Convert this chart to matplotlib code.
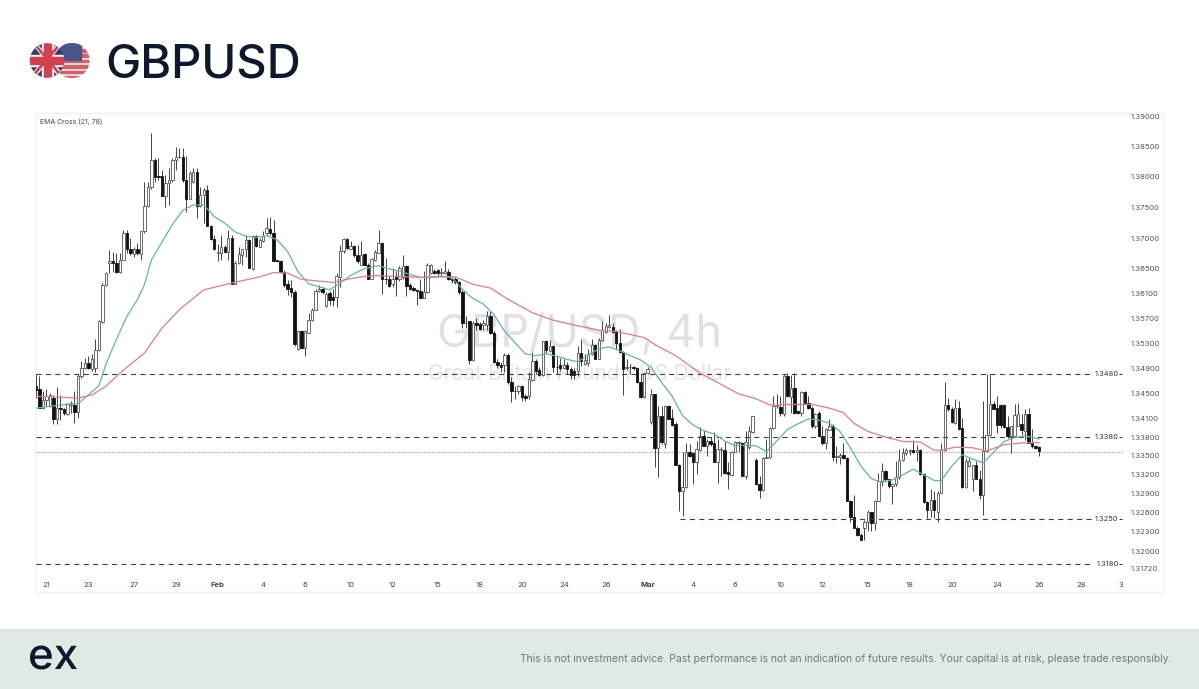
import matplotlib
matplotlib.use("Agg")
import matplotlib.pyplot as plt
import numpy as np
from matplotlib.font_manager import FontProperties
from matplotlib.patches import Circle, PathPatch, Rectangle, Polygon
from matplotlib.path import Path
from matplotlib.textpath import TextPath
from matplotlib.ticker import NullLocator
from matplotlib.transforms import Bbox

plt.rcParams["font.family"] = ["Inter", "DejaVu Sans"]

# GBP/USD 4h candles
opens = [
    1.3462, 1.3457, 1.3426, 1.3439, 1.3429, 1.3442, 1.3408, 1.3427, 1.3424, 1.3417,
    1.3431, 1.3431, 1.3420, 1.3477, 1.3490, 1.3498, 1.3489, 1.3490, 1.3519, 1.3564,
    1.3624, 1.3659, 1.3663, 1.3660, 1.3645, 1.3665, 1.3708, 1.3682, 1.3674, 1.3682,
    1.3674, 1.3711, 1.3752, 1.3783, 1.3828, 1.3801, 1.3802, 1.3769, 1.3790, 1.3794,
    1.3828, 1.3833, 1.3832, 1.3794, 1.3764, 1.3792, 1.3808, 1.3753, 1.3770, 1.3779,
    1.3720, 1.3698, 1.3676, 1.3676, 1.3685, 1.3678, 1.3700, 1.3626, 1.3659, 1.3673,
    1.3683, 1.3697, 1.3650, 1.3704, 1.3686, 1.3696, 1.3708, 1.3715, 1.3708, 1.3664,
    1.3662, 1.3645, 1.3625, 1.3619, 1.3612, 1.3521, 1.3550, 1.3523, 1.3547, 1.3567,
    1.3584, 1.3614, 1.3617, 1.3590, 1.3611, 1.3605, 1.3605, 1.3637, 1.3679, 1.3699,
    1.3683, 1.3687, 1.3673, 1.3657, 1.3674, 1.3657, 1.3633, 1.3665, 1.3676, 1.3692,
    1.3634, 1.3633, 1.3625, 1.3637, 1.3633, 1.3636, 1.3654, 1.3624, 1.3619, 1.3616,
    1.3614, 1.3603, 1.3612, 1.3643, 1.3647, 1.3648, 1.3643, 1.3644, 1.3645, 1.3633,
    1.3633, 1.3629, 1.3612, 1.3562, 1.3565, 1.3503, 1.3562, 1.3561, 1.3560, 1.3560,
    1.3574, 1.3546, 1.3499, 1.3495, 1.3495, 1.3511, 1.3467, 1.3454, 1.3453, 1.3461,
    1.3446, 1.3446, 1.3471, 1.3502, 1.3487, 1.3479, 1.3533, 1.3518, 1.3526, 1.3492,
    1.3495, 1.3490, 1.3495, 1.3488, 1.3486, 1.3486, 1.3515, 1.3496, 1.3498, 1.3512,
    1.3527, 1.3505, 1.3535, 1.3548, 1.3556, 1.3556, 1.3548, 1.3530, 1.3516, 1.3490,
    1.3491, 1.3492, 1.3490, 1.3467, 1.3443, 1.3482, 1.3404, 1.3448, 1.3363, 1.3413,
    1.3369, 1.3430, 1.3410, 1.3401, 1.3336, 1.3294, 1.3301, 1.3357, 1.3354, 1.3340,
    1.3360, 1.3381, 1.3366, 1.3374, 1.3371, 1.3341, 1.3359, 1.3360, 1.3324, 1.3320,
    1.3357, 1.3370, 1.3371, 1.3319, 1.3364, 1.3388, 1.3344, 1.3305, 1.3296, 1.3346,
    1.3348, 1.3394, 1.3429, 1.3428, 1.3416, 1.3477, 1.3444, 1.3458, 1.3421, 1.3418,
    1.3452, 1.3435, 1.3427, 1.3398, 1.3418, 1.3382, 1.3371, 1.3392, 1.3398, 1.3349,
    1.3349, 1.3352, 1.3347, 1.3279, 1.3254, 1.3237, 1.3225, 1.3237, 1.3245, 1.3261,
    1.3244, 1.3279, 1.3310, 1.3326, 1.3313, 1.3302, 1.3305, 1.3317, 1.3343, 1.3355,
    1.3358, 1.3359, 1.3357, 1.3359, 1.3322, 1.3277, 1.3264, 1.3281, 1.3262, 1.3292,
    1.3359, 1.3431, 1.3425, 1.3402, 1.3426, 1.3395, 1.3301, 1.3334, 1.3314, 1.3335,
    1.3314, 1.3289, 1.3358, 1.3384, 1.3432, 1.3426, 1.3431, 1.3431, 1.3396, 1.3381,
    1.3381, 1.3398, 1.3400, 1.3390, 1.3417, 1.3371, 1.3366, 1.3364,
]
highs = [
    1.3480, 1.3477, 1.3453, 1.3457, 1.3450, 1.3447, 1.3460, 1.3447, 1.3426, 1.3435,
    1.3438, 1.3453, 1.3480, 1.3502, 1.3507, 1.3509, 1.3512, 1.3536, 1.3568, 1.3627,
    1.3645, 1.3681, 1.3678, 1.3675, 1.3676, 1.3713, 1.3713, 1.3700, 1.3686, 1.3692,
    1.3712, 1.3791, 1.3791, 1.3872, 1.3831, 1.3831, 1.3812, 1.3803, 1.3814, 1.3831,
    1.3849, 1.3847, 1.3847, 1.3834, 1.3809, 1.3814, 1.3814, 1.3783, 1.3782, 1.3787,
    1.3722, 1.3705, 1.3691, 1.3705, 1.3689, 1.3713, 1.3705, 1.3662, 1.3686, 1.3683,
    1.3705, 1.3698, 1.3705, 1.3705, 1.3700, 1.3711, 1.3733, 1.3734, 1.3730, 1.3665,
    1.3664, 1.3648, 1.3632, 1.3632, 1.3615, 1.3552, 1.3551, 1.3551, 1.3579, 1.3587,
    1.3617, 1.3624, 1.3621, 1.3612, 1.3614, 1.3617, 1.3644, 1.3689, 1.3700, 1.3700,
    1.3695, 1.3689, 1.3689, 1.3696, 1.3676, 1.3660, 1.3668, 1.3681, 1.3713, 1.3693,
    1.3668, 1.3639, 1.3652, 1.3646, 1.3654, 1.3672, 1.3657, 1.3627, 1.3622, 1.3617,
    1.3633, 1.3646, 1.3660, 1.3658, 1.3649, 1.3649, 1.3652, 1.3662, 1.3649, 1.3636,
    1.3636, 1.3630, 1.3616, 1.3573, 1.3566, 1.3566, 1.3571, 1.3564, 1.3568, 1.3582,
    1.3582, 1.3550, 1.3504, 1.3499, 1.3515, 1.3515, 1.3475, 1.3461, 1.3463, 1.3463,
    1.3449, 1.3483, 1.3516, 1.3504, 1.3491, 1.3534, 1.3535, 1.3535, 1.3527, 1.3510,
    1.3507, 1.3505, 1.3499, 1.3491, 1.3490, 1.3525, 1.3536, 1.3513, 1.3520, 1.3537,
    1.3528, 1.3539, 1.3565, 1.3563, 1.3575, 1.3562, 1.3552, 1.3553, 1.3518, 1.3504,
    1.3496, 1.3494, 1.3491, 1.3481, 1.3483, 1.3491, 1.3457, 1.3449, 1.3429, 1.3430,
    1.3431, 1.3431, 1.3425, 1.3404, 1.3337, 1.3356, 1.3370, 1.3369, 1.3357, 1.3374,
    1.3396, 1.3392, 1.3377, 1.3380, 1.3388, 1.3377, 1.3364, 1.3374, 1.3340, 1.3358,
    1.3373, 1.3373, 1.3372, 1.3389, 1.3398, 1.3414, 1.3346, 1.3319, 1.3348, 1.3377,
    1.3396, 1.3446, 1.3449, 1.3446, 1.3481, 1.3482, 1.3479, 1.3482, 1.3423, 1.3453,
    1.3454, 1.3445, 1.3429, 1.3418, 1.3421, 1.3397, 1.3395, 1.3408, 1.3400, 1.3365,
    1.3355, 1.3371, 1.3348, 1.3281, 1.3289, 1.3239, 1.3228, 1.3249, 1.3265, 1.3262,
    1.3281, 1.3323, 1.3339, 1.3327, 1.3314, 1.3307, 1.3342, 1.3361, 1.3363, 1.3363,
    1.3361, 1.3376, 1.3368, 1.3361, 1.3323, 1.3278, 1.3298, 1.3294, 1.3294, 1.3371,
    1.3467, 1.3442, 1.3428, 1.3440, 1.3437, 1.3410, 1.3347, 1.3347, 1.3336, 1.3342,
    1.3328, 1.3437, 1.3481, 1.3481, 1.3437, 1.3445, 1.3432, 1.3432, 1.3413, 1.3398,
    1.3432, 1.3435, 1.3416, 1.3424, 1.3426, 1.3393, 1.3368, 1.3365,
]
lows = [
    1.3442, 1.3426, 1.3425, 1.3430, 1.3428, 1.3401, 1.3401, 1.3407, 1.3415, 1.3415,
    1.3418, 1.3402, 1.3410, 1.3474, 1.3489, 1.3488, 1.3485, 1.3483, 1.3517, 1.3562,
    1.3622, 1.3644, 1.3645, 1.3643, 1.3643, 1.3664, 1.3675, 1.3673, 1.3670, 1.3673,
    1.3664, 1.3709, 1.3750, 1.3780, 1.3792, 1.3795, 1.3768, 1.3750, 1.3754, 1.3792,
    1.3812, 1.3831, 1.3792, 1.3743, 1.3763, 1.3790, 1.3733, 1.3750, 1.3724, 1.3719,
    1.3697, 1.3681, 1.3662, 1.3664, 1.3676, 1.3664, 1.3625, 1.3625, 1.3658, 1.3656,
    1.3670, 1.3651, 1.3648, 1.3686, 1.3685, 1.3694, 1.3705, 1.3705, 1.3662, 1.3661,
    1.3643, 1.3621, 1.3607, 1.3604, 1.3525, 1.3519, 1.3520, 1.3510, 1.3546, 1.3566,
    1.3583, 1.3612, 1.3609, 1.3589, 1.3591, 1.3590, 1.3589, 1.3621, 1.3676, 1.3682,
    1.3682, 1.3669, 1.3660, 1.3657, 1.3654, 1.3633, 1.3633, 1.3662, 1.3675, 1.3610,
    1.3625, 1.3621, 1.3621, 1.3606, 1.3630, 1.3633, 1.3606, 1.3616, 1.3614, 1.3591,
    1.3602, 1.3602, 1.3611, 1.3641, 1.3641, 1.3639, 1.3639, 1.3641, 1.3632, 1.3627,
    1.3625, 1.3609, 1.3555, 1.3555, 1.3497, 1.3501, 1.3552, 1.3551, 1.3551, 1.3552,
    1.3544, 1.3498, 1.3490, 1.3483, 1.3483, 1.3465, 1.3436, 1.3441, 1.3449, 1.3438,
    1.3438, 1.3440, 1.3470, 1.3481, 1.3477, 1.3477, 1.3515, 1.3516, 1.3483, 1.3481,
    1.3486, 1.3488, 1.3481, 1.3473, 1.3473, 1.3477, 1.3494, 1.3495, 1.3494, 1.3511,
    1.3504, 1.3504, 1.3534, 1.3547, 1.3555, 1.3547, 1.3520, 1.3515, 1.3447, 1.3487,
    1.3481, 1.3487, 1.3466, 1.3442, 1.3442, 1.3481, 1.3401, 1.3332, 1.3316, 1.3369,
    1.3362, 1.3408, 1.3398, 1.3335, 1.3263, 1.3255, 1.3300, 1.3349, 1.3305, 1.3321,
    1.3358, 1.3365, 1.3350, 1.3366, 1.3340, 1.3307, 1.3319, 1.3321, 1.3298, 1.3319,
    1.3356, 1.3356, 1.3318, 1.3313, 1.3361, 1.3387, 1.3304, 1.3284, 1.3295, 1.3346,
    1.3346, 1.3393, 1.3427, 1.3414, 1.3414, 1.3444, 1.3418, 1.3416, 1.3416, 1.3413,
    1.3432, 1.3424, 1.3395, 1.3395, 1.3381, 1.3368, 1.3361, 1.3391, 1.3342, 1.3339,
    1.3338, 1.3345, 1.3278, 1.3246, 1.3236, 1.3224, 1.3217, 1.3217, 1.3231, 1.3232,
    1.3233, 1.3278, 1.3302, 1.3310, 1.3299, 1.3274, 1.3302, 1.3314, 1.3342, 1.3352,
    1.3352, 1.3355, 1.3342, 1.3320, 1.3276, 1.3252, 1.3253, 1.3252, 1.3246, 1.3291,
    1.3358, 1.3421, 1.3402, 1.3400, 1.3392, 1.3299, 1.3299, 1.3333, 1.3294, 1.3313,
    1.3282, 1.3257, 1.3356, 1.3382, 1.3424, 1.3387, 1.3395, 1.3395, 1.3379, 1.3354,
    1.3380, 1.3397, 1.3384, 1.3376, 1.3370, 1.3363, 1.3361, 1.3350,
]
closes = [
    1.3455, 1.3427, 1.3439, 1.3445, 1.3447, 1.3408, 1.3426, 1.3424, 1.3418, 1.3433,
    1.3432, 1.3420, 1.3477, 1.3490, 1.3498, 1.3490, 1.3504, 1.3519, 1.3565, 1.3624,
    1.3644, 1.3663, 1.3660, 1.3645, 1.3665, 1.3708, 1.3682, 1.3675, 1.3682, 1.3675,
    1.3711, 1.3752, 1.3783, 1.3828, 1.3800, 1.3799, 1.3769, 1.3790, 1.3795, 1.3828,
    1.3833, 1.3832, 1.3794, 1.3764, 1.3807, 1.3808, 1.3753, 1.3770, 1.3779, 1.3720,
    1.3698, 1.3683, 1.3677, 1.3685, 1.3678, 1.3700, 1.3626, 1.3660, 1.3674, 1.3683,
    1.3697, 1.3651, 1.3704, 1.3687, 1.3697, 1.3704, 1.3716, 1.3708, 1.3663, 1.3662,
    1.3645, 1.3624, 1.3618, 1.3612, 1.3528, 1.3550, 1.3523, 1.3550, 1.3568, 1.3584,
    1.3614, 1.3618, 1.3612, 1.3610, 1.3599, 1.3599, 1.3638, 1.3679, 1.3699, 1.3684,
    1.3687, 1.3672, 1.3662, 1.3673, 1.3656, 1.3633, 1.3666, 1.3677, 1.3692, 1.3634,
    1.3633, 1.3622, 1.3633, 1.3634, 1.3652, 1.3654, 1.3623, 1.3618, 1.3616, 1.3614,
    1.3603, 1.3613, 1.3657, 1.3657, 1.3643, 1.3643, 1.3645, 1.3646, 1.3633, 1.3632,
    1.3629, 1.3612, 1.3562, 1.3563, 1.3503, 1.3563, 1.3560, 1.3553, 1.3562, 1.3574,
    1.3546, 1.3499, 1.3495, 1.3491, 1.3511, 1.3467, 1.3454, 1.3453, 1.3461, 1.3443,
    1.3442, 1.3473, 1.3502, 1.3486, 1.3479, 1.3533, 1.3519, 1.3526, 1.3491, 1.3491,
    1.3490, 1.3495, 1.3488, 1.3479, 1.3479, 1.3515, 1.3502, 1.3503, 1.3512, 1.3527,
    1.3505, 1.3535, 1.3552, 1.3558, 1.3559, 1.3548, 1.3530, 1.3516, 1.3488, 1.3491,
    1.3492, 1.3490, 1.3467, 1.3443, 1.3482, 1.3488, 1.3448, 1.3363, 1.3413, 1.3372,
    1.3430, 1.3409, 1.3399, 1.3336, 1.3294, 1.3301, 1.3357, 1.3350, 1.3340, 1.3361,
    1.3381, 1.3366, 1.3374, 1.3369, 1.3341, 1.3361, 1.3361, 1.3323, 1.3321, 1.3357,
    1.3372, 1.3372, 1.3319, 1.3372, 1.3389, 1.3413, 1.3305, 1.3296, 1.3346, 1.3348,
    1.3394, 1.3430, 1.3431, 1.3418, 1.3477, 1.3445, 1.3458, 1.3418, 1.3418, 1.3452,
    1.3434, 1.3427, 1.3398, 1.3417, 1.3382, 1.3371, 1.3393, 1.3398, 1.3348, 1.3350,
    1.3351, 1.3347, 1.3279, 1.3254, 1.3237, 1.3225, 1.3218, 1.3246, 1.3261, 1.3244,
    1.3279, 1.3310, 1.3326, 1.3313, 1.3302, 1.3306, 1.3317, 1.3343, 1.3355, 1.3359,
    1.3359, 1.3357, 1.3359, 1.3322, 1.3277, 1.3264, 1.3281, 1.3264, 1.3292, 1.3359,
    1.3431, 1.3424, 1.3404, 1.3426, 1.3393, 1.3301, 1.3342, 1.3342, 1.3335, 1.3314,
    1.3289, 1.3358, 1.3384, 1.3432, 1.3425, 1.3399, 1.3399, 1.3396, 1.3381, 1.3398,
    1.3415, 1.3416, 1.3391, 1.3417, 1.3371, 1.3365, 1.3363, 1.3358,
]

# EMA 21 and EMA 78 as sampled from the chart
fast_bars = [
    0, 4, 10, 12, 15, 18, 20, 23, 26, 29, 31, 33, 36, 39, 42, 45, 48, 51, 54, 57,
    60, 63, 66, 69, 72, 75, 78, 81, 84, 87, 90, 93, 96, 98, 101, 104, 107, 110, 113,
    116, 119, 122, 125, 128, 131, 134, 137, 140, 143, 146, 149, 152, 155, 158, 161,
    164, 167, 170, 173, 176, 179, 182, 185, 188, 191, 194, 197, 200, 203, 206, 209,
    212, 215, 218, 221, 224, 227, 230, 233, 236, 239, 242, 245, 248, 251, 254, 257,
    259, 262, 265, 268, 271, 274, 277, 280, 283, 287,
]
fast_ema = [
    1.3426, 1.3429, 1.3433, 1.3433, 1.3447, 1.3462, 1.3496, 1.3536, 1.3573, 1.3600,
    1.3624, 1.3664, 1.3693, 1.3722, 1.3745, 1.3754, 1.3754, 1.3735, 1.3724, 1.3710,
    1.3703, 1.3701, 1.3704, 1.3697, 1.3678, 1.3645, 1.3626, 1.3621, 1.3616, 1.3627,
    1.3639, 1.3648, 1.3653, 1.3655, 1.3650, 1.3646, 1.3641, 1.3636, 1.3637, 1.3638,
    1.3636, 1.3617, 1.3602, 1.3593, 1.3576, 1.3550, 1.3531, 1.3513, 1.3510, 1.3513,
    1.3509, 1.3504, 1.3500, 1.3511, 1.3521, 1.3524, 1.3518, 1.3510, 1.3503, 1.3491,
    1.3467, 1.3445, 1.3414, 1.3399, 1.3390, 1.3385, 1.3374, 1.3366, 1.3367, 1.3366,
    1.3357, 1.3374, 1.3392, 1.3401, 1.3409, 1.3407, 1.3402, 1.3389, 1.3363, 1.3334,
    1.3314, 1.3308, 1.3312, 1.3320, 1.3329, 1.3320, 1.3311, 1.3311, 1.3334, 1.3352,
    1.3345, 1.3339, 1.3356, 1.3373, 1.3379, 1.3382, 1.3377,
]
slow_bars = [
    0, 5, 12, 16, 20, 24, 31, 36, 41, 48, 56, 64, 68, 72, 76, 81, 85, 89, 93, 97,
    102, 107, 111, 117, 120, 125, 130, 135, 142, 148, 155, 161, 166, 174, 177, 183,
    190, 194, 201, 206, 210, 213, 217, 222, 227, 231, 234, 238, 243, 248, 253, 257,
    259, 263, 268, 272, 277, 283, 287,
]
slow_ema = [
    1.3445, 1.3444, 1.3442, 1.3447, 1.3461, 1.3482, 1.3514, 1.3554, 1.3584, 1.3616,
    1.3627, 1.3637, 1.3644, 1.3643, 1.3633, 1.3630, 1.3628, 1.3633, 1.3637, 1.3639,
    1.3638, 1.3637, 1.3636, 1.3637, 1.3637, 1.3625, 1.3619, 1.3601, 1.3579, 1.3567,
    1.3558, 1.3551, 1.3549, 1.3539, 1.3528, 1.3510, 1.3482, 1.3470, 1.3449, 1.3441,
    1.3431, 1.3431, 1.3432, 1.3432, 1.3426, 1.3419, 1.3402, 1.3389, 1.3380, 1.3373,
    1.3372, 1.3359, 1.3359, 1.3364, 1.3363, 1.3358, 1.3368, 1.3371, 1.3371,
]

price_ticks = [
    1.39, 1.385, 1.38, 1.375, 1.37, 1.365, 1.361, 1.357, 1.353, 1.349, 1.345,
    1.341, 1.338, 1.335, 1.332, 1.329, 1.326, 1.323, 1.32, 1.3172,
]
date_labels = [
    "21", "23", "27", "29", "Feb", "4", "6", "10", "12", "15", "18", "20", "24",
    "26", "Mar", "4", "6", "10", "12", "15", "18", "20", "24", "26", "28", "30",
]
date_bars = [
    3, 15, 28, 40, 52, 65, 77, 90, 102, 115, 127, 139, 151, 163, 175, 188, 200,
    213, 225, 238, 250, 262, 275, 287, 299, 311,
]
level_prices = [1.3480, 1.3380, 1.3250, 1.3180]
level_starts = [0, 0, 184.3, 0]
last_price = 1.3356

DARK = "#10192b"
WIDTH, HEIGHT = 1199, 689


def px_axes(fig):
    # background layer in picture pixels, y going down
    bg = fig.add_axes([0, 0, 1, 1], zorder=0)
    bg.set_xlim(0, WIDTH)
    bg.set_ylim(HEIGHT, 0)
    bg.axis("off")
    return bg


def draw_flags(bg):
    clip_us = Circle((72, 60.5), 17.5, transform=bg.transData)
    us = [Rectangle((50, 42), 44, 38, color="#f4f1f1", zorder=2)]
    for y in np.arange(43.5, 80, 5.4):
        us.append(Rectangle((50, y), 44, 2.7, color="#d4606a", zorder=2))
    us.append(Rectangle((50, 42), 31, 18, color="#48568c", zorder=2))
    for p in us:
        bg.add_patch(p)
        p.set_clip_path(clip_us)

    clip_uk = Circle((47, 60.5), 17.2, transform=bg.transData)
    uk = [
        Rectangle((28, 42), 38, 38, color="#2c3d78", zorder=3),
        Polygon([(32, 43), (35, 42), (64, 76), (61, 79)], color="#f2f2f2", zorder=3),
        Polygon([(59, 42), (62, 44), (33, 79), (30, 77)], color="#f2f2f2", zorder=3),
        Rectangle((41.5, 42), 11, 38, color="#f2f2f2", zorder=3),
        Rectangle((28, 55), 38, 11, color="#f2f2f2", zorder=3),
        Polygon([(33, 43), (34, 42.5), (63, 77), (62, 78)], color="#d5404e", zorder=3),
        Polygon([(60, 43), (61, 44), (32, 78), (31, 77)], color="#d5404e", zorder=3),
        Rectangle((43.5, 42), 7, 38, color="#d5404e", zorder=3),
        Rectangle((28, 57), 38, 7, color="#d5404e", zorder=3),
    ]
    for p in uk:
        bg.add_patch(p)
        p.set_clip_path(clip_uk)


def draw_logo(bg):
    # the logo glyphs are wider than Inter, so the outline is stretched to fit
    tp = TextPath((0, 0), "ex", size=1, prop=FontProperties(family="Inter", weight="medium"))
    ext = tp.get_extents()
    verts = tp.vertices.copy()
    verts[:, 0] = 30 + (verts[:, 0] - ext.x0) / ext.width * 47
    verts[:, 1] = 669.5 - (verts[:, 1] - ext.y0) / ext.height * 24
    bg.add_patch(PathPatch(Path(verts, tp.codes), fc=DARK, lw=0, zorder=3))


def draw_page(bg):
    bg.text(105, 61, "GBPUSD", fontsize=34, fontweight="medium", color=DARK,
            ha="left", va="center_baseline")
    draw_flags(bg)
    bg.add_patch(Rectangle((36, 113), 1127, 479, fill=False, ec="#f1f1f1", lw=1))
    bg.add_patch(Rectangle((0, 629), WIDTH, 60, color="#e0e9e4", lw=0))
    draw_logo(bg)
    bg.text(1172, 659, "This is not investment advice. Past performance is not an "
            "indication of future results. Your capital is at risk, please trade "
            "responsibly.", fontsize=7.5, color="#6f7b7a", ha="right", va="center")


def draw_candles(ax):
    x = np.arange(len(opens))
    o, h, l, c = map(np.array, (opens, highs, lows, closes))
    up = c >= o
    ax.vlines(x, l, h, color="#444444", lw=0.7, zorder=3)
    top = np.maximum(o, c)
    bot = np.minimum(o, c)
    ax.bar(x[up], (top - bot)[up], bottom=bot[up], width=0.68, color="white",
           edgecolor="#555555", lw=0.6, zorder=4)
    ax.bar(x[~up], (top - bot)[~up], bottom=bot[~up], width=0.68, color="#111111",
           edgecolor="#111111", lw=0.6, zorder=4)


def draw_levels(ax, x_end, x_label):
    for price, start in zip(level_prices, level_starts):
        ax.hlines(price, start, x_end, color="#3d3d3d", lw=0.8,
                  linestyles=(0, (4.5, 4)), zorder=5)
        ax.text(x_label, price, f"{price:.4f}", fontsize=5.4, color="#333333",
                ha="right", va="center", zorder=6)
        ax.hlines(price, x_label + 0.2, x_label + 0.9, color="#333333", lw=0.7, zorder=6)
    ax.axhline(last_price, color="#a8a8a8", lw=0.9, ls=(0, (1, 1)), zorder=2)


fig = plt.figure(figsize=(WIDTH / 100, HEIGHT / 100), dpi=100, facecolor="white")
bg = px_axes(fig)
draw_page(bg)

ax = fig.add_axes([36 / WIDTH, (HEIGHT - 576) / HEIGHT, 1087 / WIDTH, 463 / HEIGHT], zorder=1)
ax.patch.set_alpha(0)
ax.set_yscale("log")
ax.set_xlim(0, 310.6)
ax.set_ylim(1.3161, 1.3905)
for s in ax.spines.values():
    s.set_visible(False)

# watermark sits below the candles
ax.text(0.5, 0.52, "GBP/USD, 4h", transform=ax.transAxes, fontsize=32.5, color="#e0e1e4",
        ha="center", va="center", zorder=1)
ax.text(0.5, 0.437, "Great Britain Pound / US Dollar", transform=ax.transAxes, fontsize=15,
        color="#e4e5e8", ha="center", va="center", zorder=1)

draw_levels(ax, 302.3, 309.7)
ax.plot(fast_bars, fast_ema, color="#62b5a6", lw=0.9, zorder=5)
ax.plot(slow_bars, slow_ema, color="#e27c88", lw=0.9, zorder=5)
draw_candles(ax)

ax.yaxis.tick_right()
ax.set_yticks(price_ticks)
ax.set_yticklabels([f"{p:.5f}" for p in price_ticks])
ax.yaxis.set_minor_locator(NullLocator())
ax.tick_params(axis="y", length=0, pad=5.5, labelsize=5.5, labelcolor="#555555")
ax.set_xticks(date_bars)
ax.set_xticklabels(date_labels)
ax.tick_params(axis="x", length=0, pad=4, labelsize=5.5, labelcolor="#444444")
for lab in ax.get_xticklabels():
    if lab.get_text() in ("Feb", "Mar"):
        lab.set_fontweight("bold")

# top price label and last date label are cut off by the pane edges
top_label = ax.get_yticklabels()[0]
top_label.set_clip_on(True)
top_label.set_clip_box(Bbox.from_extents(0, 0, WIDTH, HEIGHT - 113))
end_label = ax.get_xticklabels()[-1]
end_label.set_clip_on(True)
end_label.set_clip_box(Bbox.from_extents(0, 0, 1123, HEIGHT))

bg.text(40, 122, "EMA Cross (21, 78)", fontsize=5, color="#444444", ha="left", va="center")

fig.savefig("out.png", dpi=100)
